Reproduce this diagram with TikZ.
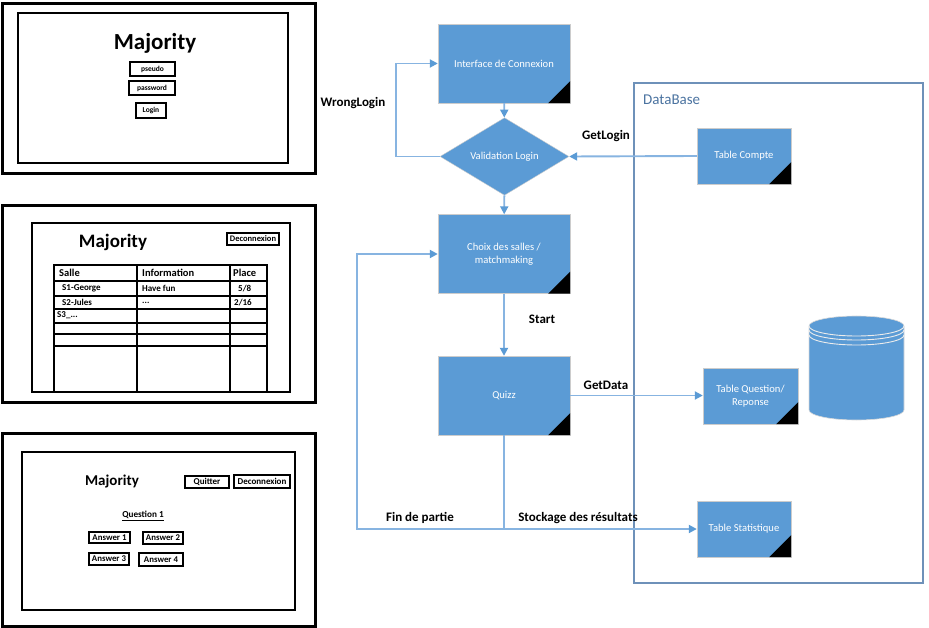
\documentclass[tikz,border=0pt]{standalone}
\usepackage{fontspec}
\setmainfont{Carlito}
\usepackage{tikz}
\usetikzlibrary{arrows.meta,shapes.geometric}

\definecolor{boxblue}{RGB}{91,155,213}
\definecolor{lineblue}{RGB}{135,180,225}
\definecolor{frameblue}{RGB}{110,145,185}
\definecolor{dbtext}{RGB}{75,115,160}

\tikzset{
  proc/.style={draw=gray!40, fill=boxblue, text=white, inner sep=0pt, align=center, font=\fontsize{10.6}{13}\selectfont},
  bigbox/.style={proc, minimum width=132pt, minimum height=79pt},
  dbbox/.style={proc, minimum width=94pt, minimum height=56pt},
  link/.style={draw=lineblue, line width=1.9pt, -{Triangle[length=8pt,width=8pt,color=boxblue]}},
  wire/.style={draw=lineblue, line width=1.9pt},
  lbl/.style={font=\bfseries\fontsize{13}{15}\selectfont},
  outer/.style={line width=3pt},
  screen/.style={line width=1.5pt},
  btn/.style={draw, line width=1.5pt, inner sep=0pt, font=\bfseries\fontsize{8.5}{9}\selectfont},
  cell/.style={anchor=west, inner sep=0pt, font=\bfseries\fontsize{9}{10}\selectfont},
  title/.style={inner sep=0pt, font=\bfseries\fontsize{#1}{#1}\selectfont},
}

\begin{document}
\begin{tikzpicture}[x=1pt,y=-1pt]
	\useasboundingbox (0,0) rectangle (929,628);

	% ecran de connexion
	\draw[outer] (2.5,3.5) rectangle (315,174);
	\draw[screen] (18,13) rectangle (288,163);
	\node[title=23] (maj1) at (155,43) {Majority};
	\node[btn, minimum width=45pt, minimum height=14pt, font=\bfseries\fontsize{7.5}{8}\selectfont] (pseudo) at (152.5,69) {pseudo};
	\node[btn, minimum width=46pt, minimum height=14pt, font=\bfseries\fontsize{7.5}{8}\selectfont] (password) at (152,88) {password};
	\node[btn, minimum width=30pt, minimum height=15pt, font=\bfseries\fontsize{7.5}{8}\selectfont] (login) at (151,110.5) {Login};

	% ecran des salles
	\draw[outer] (2.5,205.5) rectangle (315,402);
	\draw[screen] (32,223) rectangle (290,392);
	\node[title=19] (maj2) at (113,242) {Majority};
	\node[btn, minimum width=52pt, minimum height=12pt] (deco2) at (253,239) {Deconnexion};
	\draw[screen] (54,265) rectangle (267,392);
	\draw[screen] (137,265) -- (137,392);
	\draw[screen] (230,265) -- (230,392);
	\foreach \y in {281,296,309,323,334,346} \draw[screen] (54,\y) -- (267,\y);
	\node[cell, font=\bfseries\fontsize{10.5}{11}\selectfont] (hsalle) at (59,273) {Salle};
	\node[cell, font=\bfseries\fontsize{10.5}{11}\selectfont] (hinfo) at (142,273) {Information};
	\node[cell, font=\bfseries\fontsize{10.5}{11}\selectfont] (hplace) at (233,273) {Place};
	\node[cell] (s1) at (62,288.5) {S1-George};
	\node[cell] (i1) at (142,288.5) {Have fun};
	\node[cell] (p1) at (238,289) {5/8};
	\node[cell] (s2) at (62,302) {S2-Jules};
	\node[cell] (i2) at (142,303) {...};
	\node[cell] (p2) at (234,303) {2/16};
	\node[cell] (s3) at (57,315) {S3\_...};

	% ecran du quizz
	\draw[outer] (2.5,433.5) rectangle (315,626);
	\draw[screen] (22,452) rectangle (295,610);
	\node[title=15] (maj3) at (112,482) {Majority};
	\node[btn, minimum width=44pt, minimum height=12pt, font=\bfseries\fontsize{9}{9}\selectfont] (quit) at (207,482) {Quitter};
	\node[btn, minimum width=56pt, minimum height=13pt, font=\bfseries\fontsize{9}{9}\selectfont] (deco3) at (262,481.5) {Deconnexion};
	\node[inner sep=0pt, font=\bfseries\fontsize{9.2}{10}\selectfont] (q1) at (143,516) {\underline{Question 1}};
	\node[btn, minimum width=41pt, minimum height=11pt, font=\bfseries\fontsize{8.8}{9}\selectfont] (a1) at (109.5,537.5) {Answer 1};
	\node[btn, minimum width=40pt, minimum height=12pt, font=\bfseries\fontsize{8.8}{9}\selectfont] (a2) at (163,538) {Answer 2};
	\node[btn, minimum width=40pt, minimum height=12pt, font=\bfseries\fontsize{8.8}{9}\selectfont] (a3) at (109,559) {Answer 3};
	\node[btn, minimum width=44pt, minimum height=13pt, font=\bfseries\fontsize{8.8}{9}\selectfont] (a4) at (161,559.5) {Answer 4};

	% base de donnees
	\draw[frameblue, line width=1.2pt] (634,83) rectangle (923,583);
	\node[anchor=west, inner sep=0pt, text=dbtext, font=\fontsize{15}{15}\selectfont] (dbname) at (643,100) {DataBase};
	\filldraw[fill=boxblue, draw=gray!30, line width=0.6pt] (809,326) -- (809,410) arc[start angle=180, end angle=0, x radius=47.5, y radius=10]
		-- (904,326) arc[start angle=0, end angle=-180, x radius=47.5, y radius=10] -- cycle;
	\foreach \d in {0,4,9}
		\draw[white!85!gray, line width=0.9pt] (809,326+\d) arc[start angle=180, end angle=0, x radius=47.5, y radius=10];

	\node[dbbox] (compte) at (744,156) {Table Compte};
	\node[dbbox, minimum width=95pt] (question) at (750.5,396) {Table Question/\\Reponse};
	\node[dbbox] (stat) at (744,529) {Table Statistique};

	% flux
	\node[bigbox] (conn) at (504,63.5) {Interface de Connexion};
	\node[proc, diamond, minimum width=129pt, minimum height=55pt] (valid) at (504.5,156.5) {Validation Login};
	\node[bigbox] (choix) at (504,254) {Choix des salles /\\matchmaking};
	\node[bigbox] (quizz) at (504,395.5) {Quizz};

	\foreach \n in {conn,choix,quizz,compte,question,stat}
		\fill (\n.south east) -- ++(-22,0) -- ++(22,-22) -- cycle;

	\draw[link] (conn) -- (valid);
	\draw[link] (valid.west) -- ++(-44,0) |- (conn.west);
	\draw[link] (compte.west) -- (valid.east);
	\draw[link] (valid) -- (choix);
	\draw[link] (choix) -- (quizz);
	\draw[link] (quizz.east) -- (quizz.east -| question.west);

	\coordinate (split) at (504,529);
	\coordinate (back) at (357,529);
	\draw[wire] (quizz.south) -- (split);
	\draw[link] (split) -- (stat.west);
	\draw[link] (split) -- (back) |- (choix.west);

	\node[lbl] (wrong) at (353,103) {WrongLogin};
	\node[lbl] (getlogin) at (606,136) {GetLogin};
	\node[lbl] (start) at (542,319) {Start};
	\node[lbl] (getdata) at (606,385) {GetData};
	\node[lbl] (fin) at (420,518) {Fin de partie};
	\node[lbl] (stock) at (578,518) {Stockage des résultats};
\end{tikzpicture}
\end{document}
